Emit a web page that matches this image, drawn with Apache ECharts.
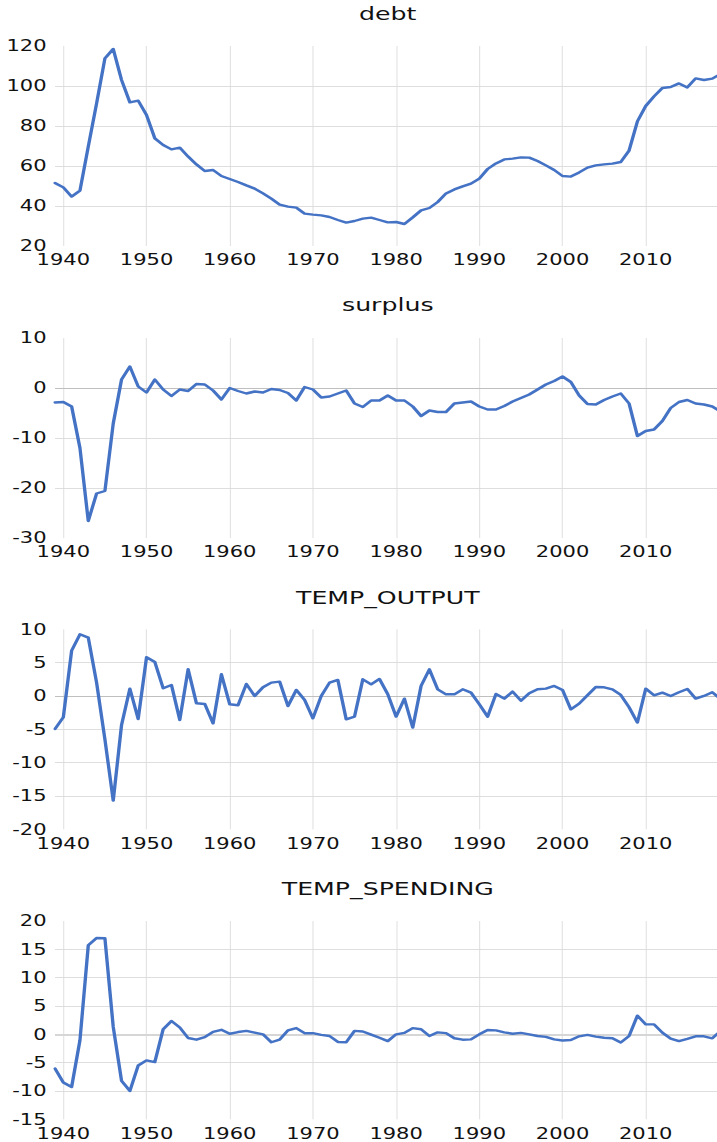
<!DOCTYPE html>
<html>
<head>
<meta charset="utf-8">
<script src="https://cdn.jsdelivr.net/npm/echarts@6.0.0/dist/echarts.min.js"></script>
<style>
html, body { margin: 0; padding: 0; overflow: hidden; background: #ffffff; width: 717px; height: 1142px; }
#chart { width: 520px; height: 1142px; transform: scaleX(1.40039); transform-origin: 0 0; }
</style>
</head>
<body>
<div id="chart"></div>
<script>
// ---- data ----
const years = [
  1939,
  1940,1941,1942,1943,1944,1945,1946,1947,1948,1949,
  1950,1951,1952,1953,1954,1955,1956,1957,1958,1959,
  1960,1961,1962,1963,1964,1965,1966,1967,1968,1969,
  1970,1971,1972,1973,1974,1975,1976,1977,1978,1979,
  1980,1981,1982,1983,1984,1985,1986,1987,1988,1989,
  1990,1991,1992,1993,1994,1995,1996,1997,1998,1999,
  2000,2001,2002,2003,2004,2005,2006,2007,2008,2009,
  2010,2011,2012,2013,2014,2015,2016,2017,2018,2019
];
const xLabelYears = [1940, 1950, 1960, 1970, 1980, 1990, 2000, 2010];

const debt = [
  51.5,
  49.3, 44.7, 47.7, 69.7, 91.3, 113.8, 118.5, 103, 91.8, 92.7,
  85.5, 73.8, 70.5, 68.3, 69.2, 64.7, 60.8, 57.5, 58, 55,
  53.5, 52, 50.3, 48.7, 46.3, 43.7, 40.7, 39.7, 39.2, 36.2,
  35.7, 35.3, 34.5, 33, 31.7, 32.5, 33.7, 34.2, 33, 31.8,
  32, 31, 34.3, 37.8, 39, 42, 46.3, 48.3, 49.8, 51.2,
  53.7, 58.5, 61.3, 63.3, 63.7, 64.3, 64.2, 62.5, 60.3, 58,
  55, 54.7, 56.8, 59.2, 60.3, 60.8, 61.2, 62, 67.7, 82.3,
  90, 94.8, 99, 99.5, 101.3, 99.3, 103.8, 103, 103.7, 106
];
const surplus = [
  -2.9,
  -2.8, -3.7, -12, -26.6, -21.1, -20.6, -7.1, 1.7, 4.3, 0.3,
  -0.9, 1.7, -0.3, -1.6, -0.3, -0.6, 0.8, 0.7, -0.5, -2.3,
  0, -0.6, -1.1, -0.7, -0.9, -0.2, -0.4, -1, -2.5, 0.2,
  -0.3, -1.9, -1.7, -1.1, -0.5, -3.1, -3.8, -2.5, -2.5, -1.5,
  -2.5, -2.5, -3.7, -5.6, -4.5, -4.8, -4.8, -3.1, -2.9, -2.7,
  -3.7, -4.3, -4.3, -3.6, -2.7, -2, -1.3, -0.3, 0.7, 1.4,
  2.3, 1.2, -1.5, -3.2, -3.3, -2.4, -1.7, -1.1, -3.1, -9.6,
  -8.6, -8.3, -6.6, -4, -2.8, -2.4, -3.1, -3.3, -3.7, -4.7
];
const tempOutput = [
  -4.95,
  -3.2, 6.8, 9.25, 8.75, 2.0, -6.5, -15.7, -4.35, 1.1, -3.45,
  5.8, 5.1, 1.15, 1.65, -3.6, 4, -1.1, -1.2, -4.1, 3.25,
  -1.25, -1.4, 1.8, 0, 1.3, 2, 2.15, -1.5, 0.9, -0.6,
  -3.35, 0, 2, 2.4, -3.5, -3.1, 2.5, 1.75, 2.55, 0.25,
  -3.1, -0.4, -4.75, 1.5, 4, 1, 0.25, 0.25, 1, 0.5,
  -1.25, -3.1, 0.3, -0.4, 0.65, -0.7, 0.4, 1, 1.1, 1.5,
  0.9, -2, -1.15, 0.1, 1.35, 1.3, 1, 0.15, -1.7, -4,
  1.1, 0.1, 0.5, 0, 0.55, 1.05, -0.4, 0, 0.55, -0.45
];
const tempSpending = [
  -6.05,
  -8.5, -9.3, -1.05, 15.7, 17, 16.95, 1.3, -8.2, -10, -5.5,
  -4.6, -4.9, 0.9, 2.35, 1.2, -0.65, -0.95, -0.5, 0.45, 0.8,
  0.1, 0.4, 0.6, 0.3, 0, -1.4, -0.95, 0.7, 1.1, 0.2,
  0.2, -0.1, -0.3, -1.35, -1.4, 0.6, 0.5, -0.05, -0.6, -1.2,
  0, 0.25, 1.1, 0.9, -0.3, 0.35, 0.2, -0.7, -0.95, -0.9,
  0, 0.75, 0.7, 0.35, 0.1, 0.25, 0, -0.3, -0.45, -0.9,
  -1.1, -1, -0.35, -0.1, -0.4, -0.6, -0.7, -1.45, -0.3, 3.3,
  1.75, 1.75, 0.3, -0.75, -1.2, -0.8, -0.35, -0.35, -0.7, 0.6
];

const debtTicks = [20, 40, 60, 80, 100, 120];
const surplusTicks = [-30, -20, -10, 0, 10];
const outputTicks = [-20, -15, -10, -5, 0, 5, 10];
const spendingTicks = [-15, -10, -5, 0, 5, 10, 15, 20];

const titles = ['debt', 'surplus', 'TEMP_OUTPUT', 'TEMP_SPENDING'];

// ---- layout / style ----
const SX = 1.40039;              // horizontal stretch applied by CSS
const FONT = 'DejaVu Sans';
const TEXT = '#111111';
const LINE = '#4472C4';
const GRID_LEFT = 39.27;
const GRID_WIDTH = 475.3;

const panels = [
  { values: debt,         ticks: debtTicks,     top: 46,    height: 200,   titleTop: 5,   zero: null },
  { values: surplus,      ticks: surplusTicks,  top: 338,   height: 200,   titleTop: 296, zero: { color: '#BFBFBF', width: 1 } },
  { values: tempOutput,   ticks: outputTicks,   top: 629.3, height: 200,   titleTop: 589, zero: { color: '#BFBFBF', width: 1 } },
  { values: tempSpending, ticks: spendingTicks, top: 921,   height: 198.3, titleTop: 879.5, zero: { color: '#D6D6D6', width: 2 } }
];

const cats = years.map(String);
const isLabelYear = (idx, val) => xLabelYears.indexOf(Number(val !== undefined ? val : cats[idx])) !== -1;

const option = {
  animation: false,
  backgroundColor: '#ffffff',
  textStyle: { fontFamily: FONT },
  title: panels.map((p, i) => ({
    text: titles[i],
    left: GRID_LEFT + GRID_WIDTH / 2,
    textAlign: 'center',
    top: p.titleTop,
    padding: 0,
    textStyle: { fontFamily: FONT, fontSize: 18, fontWeight: 'normal', color: TEXT }
  })),
  grid: panels.map(p => ({ left: GRID_LEFT, width: GRID_WIDTH, top: p.top, height: p.height, containLabel: false })),
  xAxis: panels.map((p, i) => ({
    type: 'category',
    gridIndex: i,
    data: cats,
    boundaryGap: false,
    axisLine: { show: false, onZero: false },
    axisTick: { show: false },
    axisLabel: {
      interval: (idx, val) => isLabelYear(idx, val),
      margin: 8,
      fontFamily: FONT,
      fontSize: 15,
      lineHeight: 12,
      color: TEXT
    },
    splitLine: {
      show: true,
      interval: (idx, val) => isLabelYear(idx, val),
      lineStyle: { color: '#D9D9D9', width: 1 / SX }
    }
  })),
  yAxis: panels.map((p, i) => ({
    type: 'value',
    gridIndex: i,
    min: p.ticks[0],
    max: p.ticks[p.ticks.length - 1],
    interval: p.ticks[1] - p.ticks[0],
    axisLine: { show: false },
    axisTick: { show: false },
    axisLabel: {
      margin: 6,
      fontFamily: FONT,
      fontSize: 15,
      lineHeight: 12,
      color: TEXT,
      showMinLabel: true,
      showMaxLabel: true
    },
    splitLine: {
      show: true,
      showMinLine: false,
      showMaxLine: false,
      lineStyle: { color: '#DEDEDE', width: 1 }
    }
  })),
  series: panels.map((p, i) => {
    const s = {
      type: 'line',
      xAxisIndex: i,
      yAxisIndex: i,
      data: p.values,
      showSymbol: false,
      symbol: 'none',
      smooth: false,
      lineStyle: { color: LINE, width: 2.4, join: 'round', cap: 'round' },
      z: 3
    };
    if (p.zero) {
      s.markLine = {
        silent: true,
        symbol: ['none', 'none'],
        label: { show: false },
        lineStyle: { color: p.zero.color, width: p.zero.width, type: 'solid' },
        data: [{ yAxis: 0 }],
        animation: false,
        z: 1
      };
    }
    return s;
  })
};

const chart = echarts.init(document.getElementById('chart'), null, { renderer: 'svg' });
chart.setOption(option);
</script>
</body>
</html>
